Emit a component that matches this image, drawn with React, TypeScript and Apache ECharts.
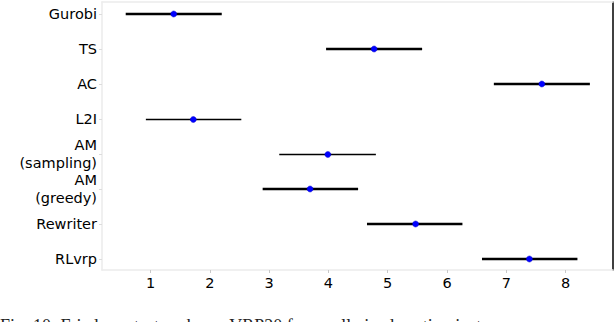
import React, { useEffect, useRef } from "react";
import * as echarts from "echarts";

const methods = ["Gurobi", "TS", "AC", "L2I", "AM\n(sampling)", "AM\n(greedy)", "Rewriter", "RLvrp"];
const meanRank = [1.39, 4.77, 7.6, 1.72, 3.99, 3.69, 5.47, 7.39];
const lowerBound = [0.58, 3.96, 6.79, 0.92, 3.17, 2.89, 4.65, 6.59];
const upperBound = [2.2, 5.58, 8.41, 2.53, 4.8, 4.5, 6.26, 8.2];
const xTicks = [1, 2, 3, 4, 5, 6, 7, 8];
const thinRows = ["L2I", "AM\n(sampling)"];
const caption = "Fig. 10: Friedman test ranks on VRP20 for small-sized routing instances";

export default function App() {
  const ref = useRef<HTMLDivElement>(null);
  useEffect(() => {
    if (!ref.current) return;
    const chart = echarts.init(ref.current, null, { renderer: "svg" });
    const data = methods.map((m, i) => [lowerBound[i], meanRank[i], upperBound[i], i]);
    const font = "DejaVu Sans";
    const yIdx = methods.map((_, i) => i);
    chart.setOption({
      animation: false,
      backgroundColor: "#ffffff",
      grid: { left: 102, right: 3, top: 2, bottom: 52, containLabel: false },
      xAxis: [
        {
          type: "value",
          min: 0.18,
          max: 8.8,
          axisLine: { show: true, onZero: false, lineStyle: { color: "#ebebeb", width: 1.5 } },
          axisTick: { show: true, length: 3, lineStyle: { color: "#c8c8c8" }, customValues: xTicks },
          axisLabel: {
            customValues: xTicks,
            color: "#000",
            fontFamily: font,
            fontSize: 14.5,
            margin: 5,
          },
          splitLine: { show: false },
        },
        {
          type: "value",
          position: "top",
          min: 0.18,
          max: 8.8,
          axisLine: { show: true, onZero: false, lineStyle: { color: "#ebebeb", width: 1.5 } },
          axisTick: { show: false },
          axisLabel: { show: false },
          splitLine: { show: false },
        },
      ],
      yAxis: [
        {
          type: "value",
          inverse: true,
          min: -0.343,
          max: 7.314,
          axisLine: { show: true, onZero: false, lineStyle: { color: "#ebebeb", width: 1.5 } },
          axisTick: { show: true, length: 3, lineStyle: { color: "#dcdcdc" }, customValues: yIdx },
          axisLabel: {
            customValues: yIdx,
            formatter: (v: number) => methods[Math.round(v)] ?? "",
            color: "#000",
            fontFamily: font,
            fontSize: 14.5,
            lineHeight: 18,
            align: "right",
            margin: 5,
          },
          splitLine: { show: false },
        },
        {
          type: "value",
          position: "right",
          inverse: true,
          min: -0.343,
          max: 7.314,
          axisLine: { show: true, onZero: false, lineStyle: { color: "#000", width: 1.5 } },
          axisTick: { show: false },
          axisLabel: { show: false },
          splitLine: { show: false },
        },
      ],
      series: [
        {
          type: "custom",
          xAxisIndex: 0,
          yAxisIndex: 0,
          data,
          renderItem: (params: any, api: any) => {
            const lo = api.value(0);
            const mid = api.value(1);
            const hi = api.value(2);
            const idx = api.value(3);
            const p1 = api.coord([lo, idx]);
            const p2 = api.coord([hi, idx]);
            const pm = api.coord([mid, idx]);
            const thin = thinRows.includes(methods[idx]);
            const y = Math.round(p1[1]) + (thin ? 0.5 : 0);
            return {
              type: "group",
              children: [
                {
                  type: "line",
                  shape: { x1: p1[0], y1: y, x2: p2[0], y2: y },
                  style: { stroke: "#000", lineWidth: thin ? 1.3 : 2.6 },
                },
                {
                  type: "circle",
                  shape: { cx: pm[0], cy: y, r: 3 },
                  style: { fill: "#0000ff", stroke: "#0000cc", lineWidth: 0.5 },
                },
              ],
            };
          },
        },
      ],
      graphic: [
        {
          type: "text",
          left: 0,
          top: 317,
          style: {
            text: caption,
            font: "18px 'Liberation Serif'",
            fill: "#222",
          },
        },
      ],
    });
    return () => chart.dispose();
  }, []);
  return (
    <div
      ref={ref}
      style={{ position: "fixed", left: 0, top: 0, width: 616, height: 322 }}
    />
  );
}
